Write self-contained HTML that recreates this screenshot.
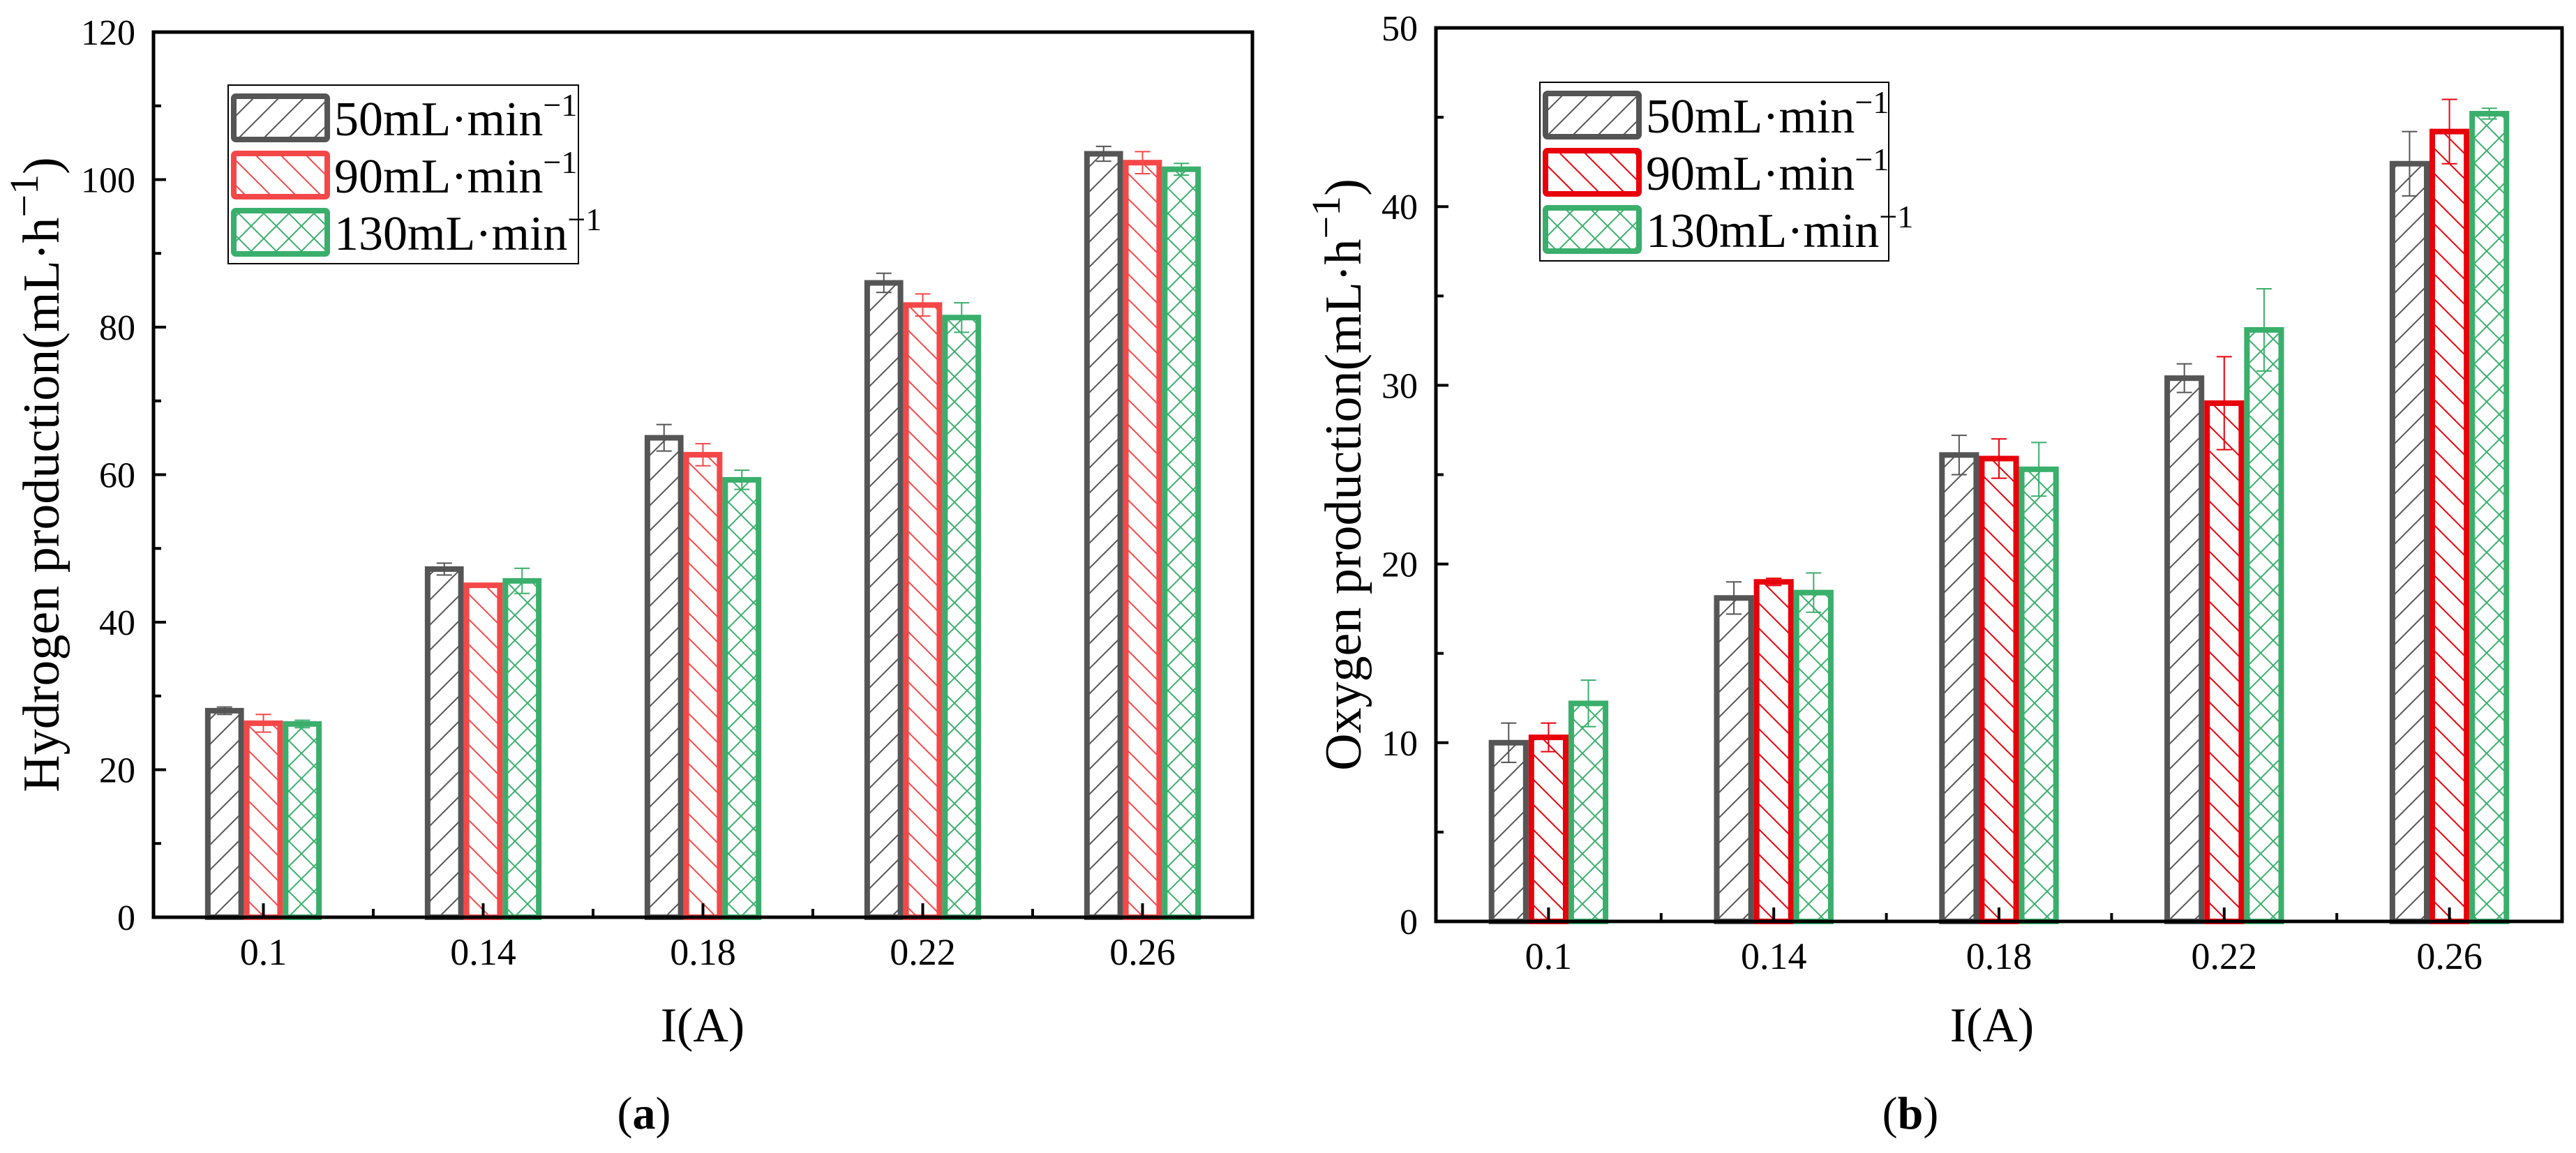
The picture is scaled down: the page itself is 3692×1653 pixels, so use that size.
<!DOCTYPE html>
<html><head><meta charset="utf-8"><style>
html,body{margin:0;padding:0;background:#fff;}
svg{display:block;}
text{font-family:"Liberation Serif","Times New Roman",serif;}
</style></head><body>
<svg id="chart" width="3692" height="1653" viewBox="0 0 3692 1653" xmlns="http://www.w3.org/2000/svg" font-family="Liberation Serif, serif">
<defs>
<pattern id="pg" patternUnits="userSpaceOnUse" width="36" height="36"><path d="M-9,9 L9,-9 M0,36 L36,0 M27,45 L45,27" stroke="#555" stroke-width="2"/></pattern>
<pattern id="pr1" patternUnits="userSpaceOnUse" width="36" height="36"><path d="M-9,27 L9,45 M0,0 L36,36 M27,-9 L45,9" stroke="#f44848" stroke-width="2"/></pattern>
<pattern id="pr2" patternUnits="userSpaceOnUse" width="36" height="36"><path d="M-9,27 L9,45 M0,0 L36,36 M27,-9 L45,9" stroke="#e8000b" stroke-width="2"/></pattern>
<pattern id="pgr" patternUnits="userSpaceOnUse" width="36" height="36"><path d="M-9,27 L9,45 M0,0 L36,36 M27,-9 L45,9 M-9,9 L9,-9 M0,36 L36,0 M27,45 L45,27" stroke="#3aaf6c" stroke-width="2"/></pattern>
</defs>
</svg>
<script>
const categories = ["0.1","0.14","0.18","0.22","0.26"];
const seriesNames = ["50mL·min","90mL·min","130mL·min"];
const h50 = [28, 47.2, 65, 86, 103.5];
const h90 = [26.3, 45, 62.7, 83, 102.3];
const h130 = [26.2, 45.6, 59.3, 81.3, 101.4];
const h50Err = [0.5, 0.8, 1.8, 1.3, 1.0];
const h90Err = [1.2, 0, 1.5, 1.5, 1.5];
const h130Err = [0.5, 1.7, 1.3, 2.0, 0.8];
const o50 = [10, 18.1, 26.1, 30.4, 42.4];
const o90 = [10.3, 19, 25.9, 29, 44.2];
const o130 = [12.2, 18.4, 25.3, 33.1, 45.2];
const o50Err = [1.1, 0.9, 1.1, 0.8, 1.8];
const o90Err = [0.8, 0.2, 1.1, 2.6, 1.8];
const o130Err = [1.3, 1.1, 1.5, 2.3, 0.3];
const hTicks = [0,20,40,60,80,100,120];
const oTicks = [0,10,20,30,40,50];

const svg = document.getElementById('chart');
const NS = 'http://www.w3.org/2000/svg';
const FF = '"Liberation Serif", serif';
function mk(tag, attrs, parent){const e=document.createElementNS(NS,tag);for(const k in attrs)e.setAttribute(k,attrs[k]);if(tag==='text')e.setAttribute('font-family',FF);(parent||svg).appendChild(e);return e;}

function panel(p){
  const g = mk('g',{});
  
  
  const W = p.x1-p.x0, H = p.y1-p.y0;
  const step = W/categories.length;
  const xc = i => p.x0 + (i+0.5)*step;
  const ys = v => p.y1 - (v/p.ymax)*H;
  const bw = step*0.177;
  const series = [
    {vals:p.s[0], err:p.e[0], fill:'url(#pg)', col:'#555', n:'50'},
    {vals:p.s[1], err:p.e[1], fill:p.redFill, col:p.red, n:'90'},
    {vals:p.s[2], err:p.e[2], fill:'url(#pgr)', col:'#3aaf6c', n:'130'}];
  series.forEach((s,k)=>{
    s.vals.forEach((v,i)=>{
      const cx = xc(i) + (k-1)*bw;
      const r = mk('rect',{x:cx-bw/2+4, y:ys(v), width:bw-8, height:p.y1-ys(v), fill:s.fill, stroke:s.col, 'stroke-width':8}, g);
      
      
      const e = s.err[i];
      if(e>0){
        const eb = mk('path',{d:`M${cx},${ys(v-e)} V${ys(v+e)} M${cx-11},${ys(v+e)} H${cx+11} M${cx-11},${ys(v-e)} H${cx+11}`, stroke:s.col, 'stroke-width':2, fill:'none'}, g);
        
        
      }
    });
  });
  const fr = mk('rect',{x:p.x0, y:p.y0, width:W, height:H, fill:'none', stroke:'#000', 'stroke-width':5}, g);
  
  
  p.ticks.forEach((t,i)=>{
    const y = ys(t);
    mk('line',{x1:p.x0, x2:p.x0+18, y1:y, y2:y, stroke:'#000','stroke-width':4}, g);
    if(i<p.ticks.length-1){const ym=ys(t+p.minor);mk('line',{x1:p.x0,x2:p.x0+11,y1:ym,y2:ym,stroke:'#000','stroke-width':4},g);}
    const tx = mk('text',{x:p.x0-26, y:y+18, 'font-size':52, 'text-anchor':'end'}, g);
    tx.textContent = t;
    
    
  });
  categories.forEach((c,i)=>{
    mk('line',{x1:xc(i),x2:xc(i),y1:p.y1,y2:p.y1-20,stroke:'#000','stroke-width':4},g);
    if(i>0) mk('line',{x1:xc(i)-step/2,x2:xc(i)-step/2,y1:p.y1,y2:p.y1-12,stroke:'#000','stroke-width':4},g);
    const tx = mk('text',{x:xc(i), y:p.y1+68, 'font-size':54, 'text-anchor':'middle'}, g);
    tx.textContent = c;
    
    
  });
  const xt = mk('text',{x:p.xtx, y:1493, 'font-size':70, 'text-anchor':'middle'}, g);
  xt.textContent = 'I(A)';
  
  
  const yt = mk('text',{x:0, y:0, 'font-size':74, 'text-anchor':'middle', transform:`translate(${p.ytx},${(p.y0+p.y1)/2}) rotate(-90)`}, g);
  yt.innerHTML = p.ytitle + '(mL·h<tspan dy="-30" font-size="58">−1</tspan><tspan dy="30">)</tspan>';
  
  
  const lab = mk('text',{x:p.labx, y:1618, 'font-size':66, 'text-anchor':'middle'}, g);
  lab.innerHTML = '(<tspan font-weight="bold">'+p.lab+'</tspan>)';
  
  
  const lg = mk('g',{}, g);
  
  
  mk('rect',{x:p.lx, y:p.ly, width:p.lw, height:256, fill:'#fff', stroke:'#000', 'stroke-width':2}, lg);
  series.forEach((s,k)=>{
    const y = p.ly+16+k*82;
    const e = mk('g',{}, lg);
    
    
    mk('rect',{x:p.lx+8, y:y, width:134, height:62, fill:s.fill, stroke:s.col, 'stroke-width':8, rx:3}, e);
    const t = mk('text',{x:p.lx+152, y:y+56, 'font-size':70}, e);
    t.innerHTML = seriesNames[k] + '<tspan dy="-28" font-size="46">−1</tspan>';
  });
}

panel({name:'hydrogen-chart', x0:220, x1:1795, y0:46, y1:1315, ymax:120, ticks:hTicks, minor:10,
  s:[h50,h90,h130], e:[h50Err,h90Err,h130Err], red:'#f44848', redFill:'url(#pr1)',
  ytitle:'Hydrogen production', ytx:84, xtx:1007, labx:923, lab:'a', lx:327, ly:122, lw:502});
panel({name:'oxygen-chart', x0:2058, x1:3672, y0:40, y1:1321, ymax:50, ticks:oTicks, minor:5,
  s:[o50,o90,o130], e:[o50Err,o90Err,o130Err], red:'#e8000b', redFill:'url(#pr2)',
  ytitle:'Oxygen production', ytx:1950, xtx:2855, labx:2738, lab:'b', lx:2207, ly:118, lw:500});
</script>
</body></html>
